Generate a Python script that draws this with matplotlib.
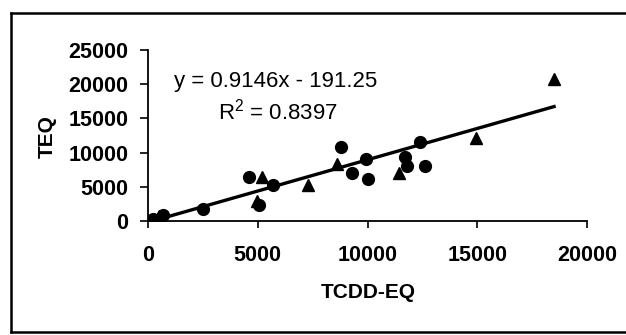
import matplotlib.pyplot as plt
from matplotlib.lines import Line2D

plt.rcParams['font.family'] = ['Liberation Sans', 'DejaVu Sans']
plt.rcParams['mathtext.fontset'] = 'custom'
plt.rcParams['mathtext.rm'] = 'Liberation Sans'
plt.rcParams['mathtext.it'] = 'Liberation Sans'

# samples shown as circles
circle_x = [250, 700, 2500, 4600, 5050, 5700, 8800, 9300, 9950, 10000, 11700, 11800, 12400, 12600]
circle_y = [300, 900, 1750, 6500, 2300, 5200, 10800, 7000, 9000, 6200, 9300, 8000, 11600, 8100]

# samples shown as triangles
tri_x = [150, 500, 4950, 5200, 7300, 8600, 11450, 14950, 18500]
tri_y = [150, 700, 2950, 6400, 5300, 8400, 7000, 12200, 20700]

# linear fit from the chart
slope = 0.9146
intercept = -191.25
fit_x = [0, 18500]
eq_text = "y = 0.9146x - 191.25"
r2_text = r"R$^{\mathregular{2}}$ = 0.8397"

fig = plt.figure(figsize=(6.26, 3.35), dpi=100)
ax = fig.add_axes([148 / 626, 1 - 221 / 335, (587 - 148) / 626, (221 - 50) / 335])

ax.plot(fit_x, [slope * v + intercept for v in fit_x], color='black', lw=2.4, zorder=2)
ax.plot(circle_x, circle_y, 'o', color='black', ms=8.5, zorder=3)
ax.plot(tri_x, tri_y, '^', color='black', ms=8.5, zorder=3)

ax.set_xlim(0, 20000)
ax.set_ylim(0, 25000)
ax.set_xticks([0, 5000, 10000, 15000, 20000])
ax.set_yticks([0, 5000, 10000, 15000, 20000, 25000])
ax.spines['top'].set_visible(False)
ax.spines['right'].set_visible(False)
for s in ('left', 'bottom'):
    ax.spines[s].set_linewidth(1.3)
ax.tick_params(axis='y', direction='out', length=6, width=1.2, pad=8, labelsize=15.5)
ax.tick_params(axis='x', direction='out', length=5, width=1.2, pad=12, labelsize=15.5)
for lab in ax.get_xticklabels() + ax.get_yticklabels():
    lab.set_fontweight('bold')

fig.text(276 / 626, 1 - 82 / 335, eq_text, fontsize=16, ha='center', va='center')
fig.text(278 / 626, 1 - 112 / 335, r2_text, fontsize=16, ha='center', va='center')

fig.text(47 / 626, 1 - 137 / 335, "TEQ", fontsize=15, fontweight='bold',
         rotation=90, ha='center', va='center')
fig.text(368 / 626, 1 - 293 / 335, "TCDD-EQ", fontsize=15, fontweight='bold',
         ha='center', va='center')

# outer chart border (right side falls outside the scan)
x0, x1 = 11 / 626, 1.02
y0, y1 = 3 / 335, 1 - 13 / 335
for xs, ys in (([x0, x0], [y0, y1]), ([x0, x1], [y1, y1]), ([x0, x1], [y0, y0])):
    fig.add_artist(Line2D(xs, ys, color='black', lw=1.8, transform=fig.transFigure))

fig.savefig('out.png', dpi=100)
